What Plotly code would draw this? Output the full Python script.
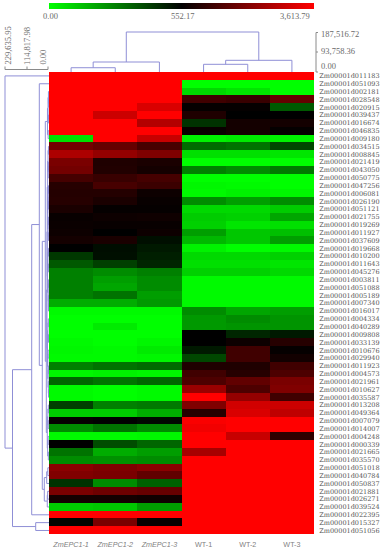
import plotly.graph_objects as go

W, H = 384, 550
HM_L, HM_R, HM_T, HM_B = 49, 314, 72, 534.4

columns = ["<i>ZmEPC1-1</i>", "<i>ZmEPC1-2</i>", "<i>ZmEPC1-3</i>", "WT-1", "WT-2", "WT-3"]
gene_suffix = ["011183","051093","002181","028548","020915","039437","016674","046835","009180","034515",
    "008845","021419","043050","050775","047256","006081","026190","051121","021755","019269",
    "011927","037609","019668","010200","011643","045276","003811","051088","005189","007340",
    "016017","004334","040289","009808","033139","010676","029940","011923","004573","021961",
    "010627","035587","013208","049364","007079","014007","004248","000339","021665","035570",
    "051018","040784","050837","021881","026271","039524","022395","015327","051056"]
genes = ["Zm00001d" + s for s in gene_suffix]

# colour level per cell: -100 = bright green (0.00), 0 = black (552.17), 100 = red (3,613.79)
zm_epc1_1 = [100,100,100,100,100,100,100,100,-88,45,68,48,45,27,15,14,15,10,3,4,
    5,8,0,-22,-35,-50,-50,-50,-50,-68,-98,-100,-100,-100,-98,-97,-98,-50,-97,-40,
    -98,-98,-25,-80,2,-55,-98,0,-45,-55,55,50,-20,48,8,-80,100,-2,100]
zm_epc1_2 = [100,100,100,100,100,80,100,100,100,40,58,12,13,22,28,14,10,2,5,3,
    0,10,-5,-6,-25,-55,-62,-65,-45,-68,-98,-100,-92,-100,-100,-98,-98,-45,-95,-45,
    -100,-100,-50,-80,0,-45,-98,-30,-68,-57,50,48,-55,43,8,-78,100,48,100]
zm_epc1_3 = [100,100,100,100,85,100,70,100,78,28,50,10,8,27,23,5,3,2,6,3,
    5,-6,-10,-12,-15,-50,-55,-55,-62,-60,-98,-100,-100,-100,-97,-92,-97,-42,-97,-40,
    -98,-98,-48,-68,-3,-55,-97,-40,-62,-55,55,38,-38,40,6,-62,100,3,100]
wt_1 = [100,-100,-85,25,2,12,-20,4,-95,-42,-88,-100,-50,-100,-97,-98,-55,-85,-80,-82,
    -62,-72,-95,-85,-88,-82,-98,-98,-98,-98,-55,-60,-60,0,0,-10,-28,12,25,30,
    60,100,50,15,98,95,100,100,65,100,100,100,100,100,100,100,100,100,100]
wt_2 = [100,-100,-90,22,2,0,8,8,-92,-45,-88,-100,-55,-100,-98,-95,-62,-85,-82,-90,
    -78,-78,-100,-85,-88,-82,-98,-98,-98,-98,-65,-55,-58,-15,5,25,25,12,15,38,
    30,58,82,85,100,100,78,100,100,100,100,100,100,100,100,100,100,100,100]
wt_3 = [100,-100,-100,40,-35,0,8,2,-95,-28,-90,-100,-48,-100,-100,-97,-55,-80,-65,-88,
    -75,-62,-98,-82,-90,-85,-98,-98,-98,-98,-62,-58,-58,-10,15,2,7,25,30,48,
    50,25,80,75,100,100,18,100,100,100,100,100,100,100,100,100,100,100,100]

colorbar_labels = ["0.00", "552.17", "3,613.79"]
row_scale_labels = ["229,635.95", "114,817.98", "0.00"]
col_scale_labels = ["187,516.72", "93,758.36", "0.00"]
ROW_MAX = 229635.95
COL_MAX = 187516.72

# dendrograms: (merge height, left child, right child); integers are leaves
col_tree = (COL_MAX, (46900, (20000, 0, 1), 2), (54800, (36100, 3, 4), 5))

upper = (8000, (5000, (3000, 2, (2000, 3, 4)), (3500, 5, 6)), (4500, 7, 8))
part_a = (9000,
    (7000, (5000, (3000, 9, 10), (4000, (2000, 11, 12), 13)),
           (6000, (4000, (2500, 14, 15), (3000, 16, 17)), (4500, (2000, 18, 19), (3000, 20, 21)))),
    (7500, (5500, (3000, 22, 23), (3500, 24, 25)), (4000, (2000, 26, 27), (3000, 28, (2500, 29, 30)))))
part_b = (8000, (5500, (3500, 31, 32), (2500, 33, 34)),
          (6000, (4500, 35, 36), (5000, (3000, 37, 38), (3500, 39, (2500, 40, 41)))))
part_c = (9000, (6000, (3500, 42, 43), (4000, 44, 45)), (7000, (4500, 46, 47), (3500, 48, 49)))
lower = (14100, (10400, part_a, part_b), part_c)
part_d = (24500, (12000, (6000, 50, 51), 52), (9000, (7000, 53, 54), 55))
big = (35000, (19300, upper, lower), part_d)
row_tree = (ROW_MAX, 0, (190500, (90300, 56, (50600, 1, big)), (69400, 57, 58)))


def walk(node, hs, ps):
    """Collect branch segments; returns (height, position along the leaves)."""
    if isinstance(node, int):
        return 0, node
    h, a, b = node
    ha, pa = walk(a, hs, ps)
    hb, pb = walk(b, hs, ps)
    hs += [ha, h, h, hb, None]
    ps += [pa, pa, pb, pb, None]
    return h, (pa + pb) / 2


def px(x):
    return x / W


def py(y):
    return 1 - y / H


z = [list(r) for r in zip(zm_epc1_1, zm_epc1_2, zm_epc1_3, wt_1, wt_2, wt_3)]
SERIF = "Liberation Serif"
GREY = "#6a6a6a"
DENDRO = "#8f8fd6"

fig = go.Figure()
fig.add_trace(go.Heatmap(
    z=z, zmin=-100, zmax=100,
    colorscale=[[0, "#00ff00"], [0.5, "#000000"], [1, "#ff0000"]],
    xgap=0, ygap=0, hoverinfo="skip",
    colorbar=dict(orientation="h", lenmode="pixels", len=HM_R - HM_L, thickness=6,
                  thicknessmode="pixels", x=px(HM_L), xanchor="left", y=py(3.2), yanchor="top",
                  xpad=0, ypad=0, outlinewidth=0, showticklabels=False, ticks=""),
))

rh, rp = [], []
walk(row_tree, rh, rp)
fig.add_trace(go.Scatter(x=rh, y=rp, xaxis="x2", yaxis="y", mode="lines",
                         line=dict(color=DENDRO, width=1), hoverinfo="skip", showlegend=False))
ch, cp = [], []
walk(col_tree, ch, cp)
fig.add_trace(go.Scatter(x=cp, y=ch, xaxis="x", yaxis="y2", mode="lines",
                         line=dict(color=DENDRO, width=1), hoverinfo="skip", showlegend=False))

row_unit = (HM_L - 5) / ROW_MAX
col_unit = (HM_T - 32) / COL_MAX

fig.update_layout(
    width=W, height=H, margin=dict(l=0, r=0, t=0, b=0),
    paper_bgcolor="white", plot_bgcolor="white", showlegend=False,
    xaxis=dict(domain=[px(HM_L), px(HM_R)], range=[-0.5, 5.5], tickmode="array",
               tickvals=list(range(6)), ticktext=columns, tickangle=0,
               tickfont=dict(family="Liberation Sans", size=7.2, color="#808080"),
               ticks="outside", ticklen=3, tickcolor="white", showgrid=False, zeroline=False,
               anchor="y"),
    yaxis=dict(domain=[py(HM_B), py(HM_T)], range=[58.5, -0.5], tickmode="array",
               tickvals=list(range(59)), ticktext=genes, side="right",
               tickfont=dict(family="DejaVu Serif", size=6.5, color="#555555"),
               ticks="outside", ticklen=3, tickcolor="white", showgrid=False, zeroline=False,
               anchor="x"),
    xaxis2=dict(domain=[0, px(HM_L)], range=[HM_L / row_unit, 0], visible=False, anchor="y"),
    yaxis2=dict(domain=[py(HM_T), 1], range=[0, HM_T / col_unit], visible=False, anchor="x"),
)


def label(text, x, y, xanchor="center", yanchor="middle", angle=0, size=8.5, color=GREY, family=SERIF):
    fig.add_annotation(text=text, x=px(x), y=py(y), xref="paper", yref="paper", showarrow=False,
                       xanchor=xanchor, yanchor=yanchor, textangle=angle, borderpad=0,
                       font=dict(family=family, size=size, color=color))


for t, x in zip(colorbar_labels, [50.5, 182, 295]):
    label(t, x, 15.5, size=8.5)
for t, y in zip(col_scale_labels, [34, 51, 65.5]):
    label(t, 319.5, y, xanchor="left", size=8.5)
for t, x in zip(row_scale_labels, [7.5, 27, 42]):
    label(t, x, 66, yanchor="bottom", angle=-90, size=8.5)


def seg(x0, y0, x1, y1):
    fig.add_shape(type="line", xref="paper", yref="paper", x0=px(x0), y0=py(y0), x1=px(x1), y1=py(y1),
                  line=dict(color="#8a8a8a", width=1))


# scale brackets
seg(5, 69.5, 48, 69.5)
for x in (5, 27, 48):
    seg(x, 69.5, x, 66.5)
seg(316, 32.5, 316, 72)
for y in (32.5, 52, 72):
    seg(316, y, 318, y)

fig.write_html("out.html", post_script="document.body.style.margin='0';document.body.style.overflow='hidden';",
               config={"displayModeBar": False})
